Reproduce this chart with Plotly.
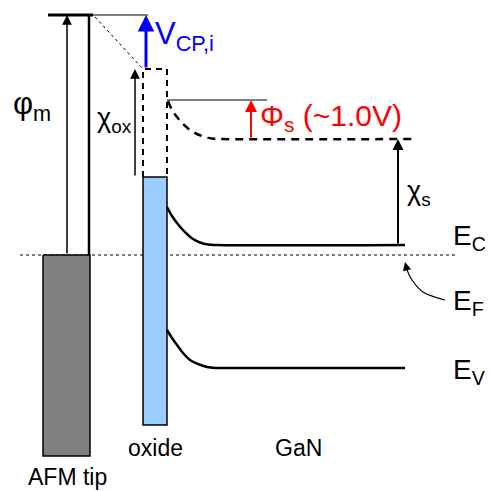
import plotly.graph_objects as go

W, H = 490, 491
FONT = "Liberation Sans, Arial, sans-serif"

# ---- diagram data (x: horizontal position, y: energy position, screen units) ----
vac_tip_x = [48, 93]          # thick tip vacuum level
vac_tip_thin_x = [93, 148]    # thin extension
vac_tip_y = 15
fermi_x = [20, 455]
fermi_y = 255
tip_x = [43, 90]
tip_y = [255, 456]
tip_edge_x = 89
ox_x = [143, 167]
ox_top_y = 69
ox_cb_y = 177
ox_bottom_y = 425
diag_x = [95, 143]
diag_y = [17, 69]

# GaN bands
vac_s_x = [168, 172, 177, 183, 190, 197, 205, 212, 220, 413]
vac_s_y = [101, 110, 117, 124, 130, 134, 137, 138.5, 139, 139]
ec_x = [167, 172, 177, 182, 187, 193, 200, 208, 217, 405]
ec_y = [207, 216, 223, 229, 234, 239, 242.5, 244.5, 245, 245]
ev_x = [167, 172, 177, 183, 190, 198, 207, 215, 223, 405]
ev_y = [330, 338, 345, 353, 360, 364, 367, 368, 368, 368]
surf_ref_x = [167, 267]
surf_ref_y = 100

# EF pointer curve
ef_curve_x = [445, 423, 412, 407]
ef_curve_y = [300, 292, 280, 270]

fig = go.Figure()

def line(xs, ys, color="black", width=2, dash="solid", shape="linear"):
    fig.add_trace(go.Scatter(x=xs, y=ys, mode="lines",
                             line=dict(color=color, width=width, dash=dash, shape=shape),
                             hoverinfo="skip", showlegend=False))

def rect(xs, ys, fill):
    fig.add_trace(go.Scatter(x=[xs[0], xs[1], xs[1], xs[0], xs[0]],
                             y=[ys[0], ys[0], ys[1], ys[1], ys[0]],
                             mode="lines", fill="toself", fillcolor=fill,
                             line=dict(color="black", width=1.5),
                             hoverinfo="skip", showlegend=False))

# Fermi level (dotted)
line(fermi_x, [fermi_y, fermi_y], color="#555555", width=1.5, dash="dot")

# AFM tip
rect(tip_x, tip_y, "#808080")
line([tip_edge_x, tip_edge_x], [vac_tip_y, fermi_y], width=2.5)
line(vac_tip_x, [vac_tip_y, vac_tip_y], width=3)
line(vac_tip_thin_x, [vac_tip_y, vac_tip_y], width=1)
line(diag_x, diag_y, width=1, dash="dot")

# oxide
rect(ox_x, [ox_cb_y, ox_bottom_y], "#99CCFF")
line([ox_x[0], ox_x[0], ox_x[1], ox_x[1]], [ox_cb_y, ox_top_y, ox_top_y, ox_cb_y],
     width=2, dash="6px,5px")

# GaN
line(surf_ref_x, [surf_ref_y, surf_ref_y], width=1)
line(vac_s_x, vac_s_y, width=2.5, dash="8px,6px", shape="spline")
line(ec_x, ec_y, width=2.5, shape="spline")
line(ev_x, ev_y, width=2.5, shape="spline")
line(ef_curve_x, ef_curve_y, width=1.2, shape="spline")

def arrow(x, y0, y1, color="black", width=1.5, size=1.0, x1=None):
    fig.add_annotation(x=x1 if x1 is not None else x, y=y1, ax=x, ay=y0,
                       xref="x", yref="y", axref="x", ayref="y",
                       text="", showarrow=True, arrowhead=2, arrowsize=size,
                       arrowwidth=width, arrowcolor=color, standoff=0, startstandoff=0)

arrow(67, fermi_y, vac_tip_y, width=1.5, size=1.3)        # phi_m
arrow(135, ox_cb_y, ox_top_y, width=1.5, size=1.3)         # chi_ox
arrow(146, ox_top_y, vac_tip_y, color="#0000FF", width=3, size=1.1)  # V_CP
arrow(251, 139, surf_ref_y, color="#FF0000", width=2, size=1.2)      # Phi_s
arrow(398, 245, 139, width=2, size=1.1)                    # chi_s
arrow(407, 270, 262, width=1.2, size=1.4, x1=405)          # EF pointer head

def text(x, y, s, size=26, color="black", xanchor="left"):
    fig.add_annotation(x=x, y=y, xref="x", yref="y", text=s, showarrow=False,
                       xanchor=xanchor, yanchor="middle",
                       font=dict(family=FONT, size=size, color=color))

text(11, 106, "φ<sub>m</sub>", size=31)
text(153, 36, "V<sub>CP,i</sub>", size=31, color="#0000FF")
text(95, 120, "χ<sub>ox</sub>", size=27)
text(258, 117, "Φ<sub>s</sub> (~1.0V)", size=30, color="#FF0000")
text(405, 193, "χ<sub>s</sub>", size=27)
text(451, 237, "E<sub>C</sub>", size=28)
text(451, 302, "E<sub>F</sub>", size=28)
text(451, 371, "E<sub>V</sub>", size=28)
text(155, 448, "oxide", size=23, xanchor="center")
text(298, 448, "GaN", size=23, xanchor="center")
text(67, 477, "AFM tip", size=23, xanchor="center")

fig.update_layout(
    width=W, height=H, margin=dict(l=0, r=0, t=0, b=0),
    paper_bgcolor="white", plot_bgcolor="white",
    xaxis=dict(range=[0, W], visible=False, fixedrange=True),
    yaxis=dict(range=[H, 0], visible=False, fixedrange=True),
    showlegend=False,
)
fig.write_html("out.html")
